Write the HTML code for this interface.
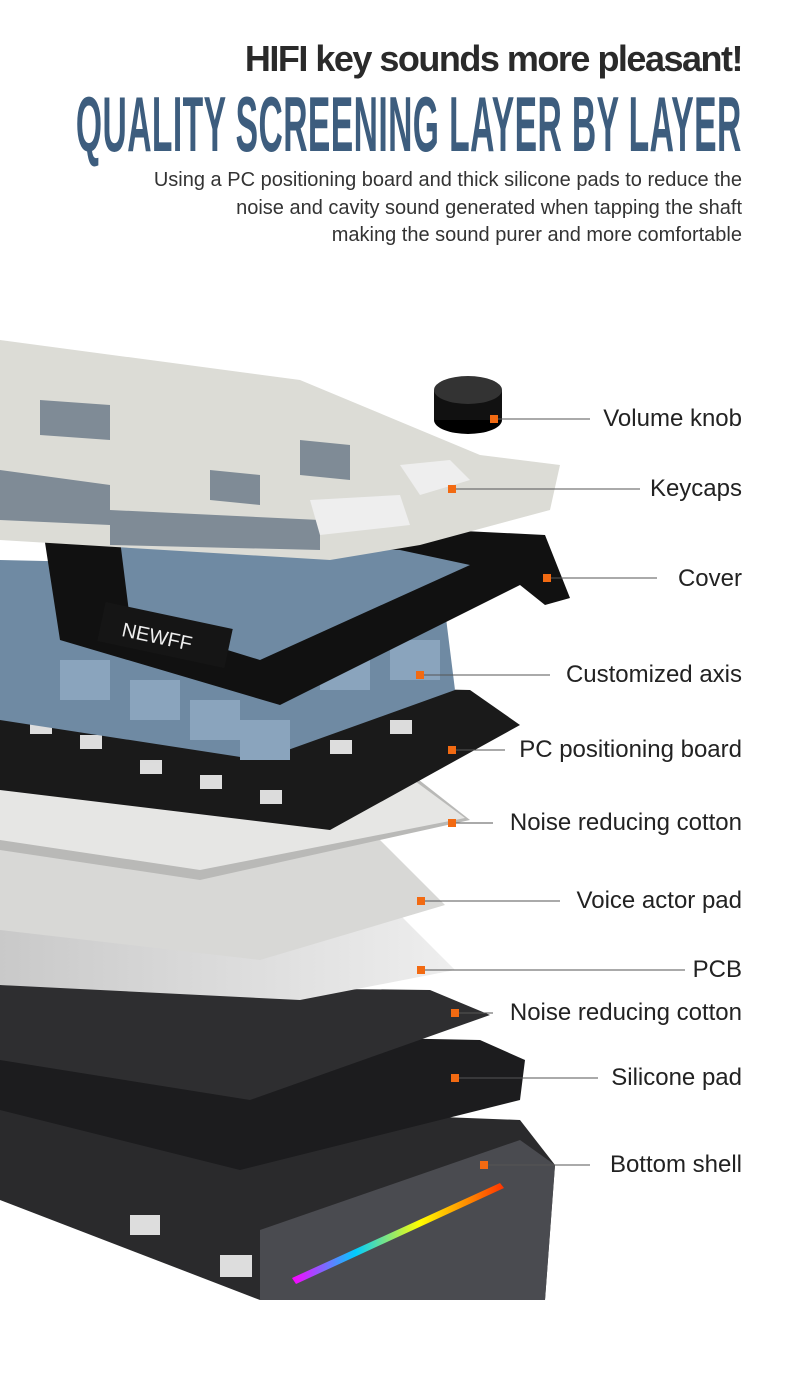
<!DOCTYPE html>
<html><head><meta charset="utf-8">
<style>
html,body{margin:0;padding:0;background:#fff;}
body{width:790px;height:1383px;position:relative;overflow:hidden;font-family:"Liberation Sans",sans-serif;}
.h1{position:absolute;right:48px;top:38px;font-size:36px;font-weight:bold;color:#2a2a2a;letter-spacing:-1.5px;white-space:nowrap;}
.h2wrap{position:absolute;right:48px;top:79px;height:80px;}
.h2{display:inline-block;font-size:78px;font-weight:bold;color:#3d5d7e;white-space:nowrap;transform:scaleX(0.431);transform-origin:right top;position:absolute;right:0;top:0;letter-spacing:1px;}
.sub{position:absolute;right:48px;top:167px;text-align:right;font-size:20px;line-height:27.5px;color:#333;white-space:nowrap;}
.lab{position:absolute;right:48px;font-size:24px;color:#222;white-space:nowrap;}
</style></head><body>
<div class="h1">HIFI key sounds more pleasant!</div>
<div class="h2wrap"><span class="h2">QUALITY SCREENING LAYER BY LAYER</span></div>
<div class="sub">Using a PC positioning board and thick silicone pads to reduce the<br>noise and cavity sound generated when tapping the shaft<br>making the sound purer and more comfortable</div>

<svg width="790" height="1383" style="position:absolute;left:0;top:0">
<defs>
<linearGradient id="rb" x1="0" x2="1"><stop offset="0" stop-color="#f0f"/><stop offset=".3" stop-color="#0cf"/><stop offset=".6" stop-color="#ff0"/><stop offset="1" stop-color="#f30"/></linearGradient>
<linearGradient id="pcb" x1="0" x2="1"><stop offset="0" stop-color="#c9c9c9"/><stop offset="1" stop-color="#eee"/></linearGradient>
</defs>
<polygon points="0,1100 520,1120 555,1165 545,1300 260,1300 0,1200" fill="#2a2a2c"/>
<polygon points="260,1230 520,1140 555,1165 545,1300 260,1300" fill="#4a4b50"/>
<polygon points="292,1278 500,1183 504,1188 296,1284" fill="url(#rb)"/>
<rect x="130" y="1215" width="30" height="20" fill="#ddd"/><rect x="220" y="1255" width="32" height="22" fill="#ddd"/>
<polygon points="0,1030 480,1040 525,1060 520,1100 240,1170 0,1110" fill="#1c1c1e"/>
<polygon points="0,985 430,990 490,1015 250,1100 0,1060" fill="#2e2e30"/>
<polygon points="0,905 400,915 455,970 300,1000 0,985" fill="url(#pcb)"/>
<polygon points="0,830 380,840 445,905 260,960 0,930" fill="#d8d8d6"/>
<polygon points="0,755 400,765 470,820 200,880 0,850" fill="#b9b9b7"/>
<polygon points="0,760 400,770 465,818 200,870 0,840" fill="#e6e6e4"/>
<polygon points="0,680 470,690 520,725 330,830 0,790" fill="#1a1a1a"/>
<g fill="#fff" opacity=".85">
<rect x="30" y="720" width="22" height="14"/><rect x="80" y="735" width="22" height="14"/><rect x="140" y="760" width="22" height="14"/><rect x="200" y="775" width="22" height="14"/><rect x="260" y="790" width="22" height="14"/><rect x="330" y="740" width="22" height="14"/><rect x="390" y="720" width="22" height="14"/><rect x="270" y="720" width="22" height="14"/></g>
<polygon points="0,560 440,570 455,690 260,760 0,720" fill="#6f8aa3"/>
<g fill="#8aa4bd"><rect x="60" y="660" width="50" height="40"/><rect x="130" y="680" width="50" height="40"/><rect x="190" y="700" width="50" height="40"/><rect x="240" y="720" width="50" height="40"/><rect x="320" y="650" width="50" height="40"/><rect x="390" y="640" width="50" height="40"/><rect x="210" y="570" width="50" height="40"/><rect x="290" y="590" width="50" height="40"/></g>
<polygon points="40,510 545,535 570,598 545,605 520,585 280,705 60,640" fill="#111"/>
<polygon points="120,540 400,550 470,565 260,660 130,620" fill="#6f8aa3"/>
<rect x="100" y="615" width="130" height="40" fill="#151515" transform="rotate(12 165 635)"/>
<text x="122" y="645" font-size="20" fill="#eee" font-family="Liberation Sans" transform="rotate(12 165 635)">NEWFF</text>
<polygon points="0,340 300,380 480,455 560,465 550,510 420,545 330,560 0,540" fill="#dcdcd6"/>
<g fill="#7f8b96"><polygon points="0,470 110,485 110,525 0,520"/><polygon points="40,400 110,405 110,440 40,435"/><polygon points="210,470 260,475 260,505 210,500"/><polygon points="300,440 350,445 350,480 300,475"/><polygon points="110,510 320,520 320,550 110,545"/></g>
<g fill="#eee"><polygon points="400,465 450,460 470,480 420,495"/><polygon points="310,500 400,495 410,525 320,535"/></g>
<ellipse cx="468" cy="420" rx="34" ry="14" fill="#000"/>
<rect x="434" y="390" width="68" height="30" fill="#111"/>
<ellipse cx="468" cy="390" rx="34" ry="14" fill="#333"/>
<g stroke="#555" stroke-width="1">
<line x1="494" y1="419" x2="590" y2="419"/>
<line x1="452" y1="489" x2="640" y2="489"/>
<line x1="547" y1="578" x2="657" y2="578"/>
<line x1="420" y1="675" x2="550" y2="675"/>
<line x1="452" y1="750" x2="505" y2="750"/>
<line x1="452" y1="823" x2="493" y2="823"/>
<line x1="421" y1="901" x2="560" y2="901"/>
<line x1="421" y1="970" x2="685" y2="970"/>
<line x1="455" y1="1013" x2="493" y2="1013"/>
<line x1="455" y1="1078" x2="598" y2="1078"/>
<line x1="484" y1="1165" x2="590" y2="1165"/>
</g>
<g fill="#f26a12">
<rect x="490" y="415" width="8" height="8"/><rect x="448" y="485" width="8" height="8"/><rect x="543" y="574" width="8" height="8"/><rect x="416" y="671" width="8" height="8"/><rect x="448" y="746" width="8" height="8"/><rect x="448" y="819" width="8" height="8"/><rect x="417" y="897" width="8" height="8"/><rect x="417" y="966" width="8" height="8"/><rect x="451" y="1009" width="8" height="8"/><rect x="451" y="1074" width="8" height="8"/><rect x="480" y="1161" width="8" height="8"/>
</g>
</svg>

<div class="lab" style="top:405px">Volume knob</div>
<div class="lab" style="top:475px">Keycaps</div>
<div class="lab" style="top:565px">Cover</div>
<div class="lab" style="top:661px">Customized axis</div>
<div class="lab" style="top:736px">PC positioning board</div>
<div class="lab" style="top:809px">Noise reducing cotton</div>
<div class="lab" style="top:887px">Voice actor pad</div>
<div class="lab" style="top:956px">PCB</div>
<div class="lab" style="top:999px">Noise reducing cotton</div>
<div class="lab" style="top:1064px">Silicone pad</div>
<div class="lab" style="top:1151px">Bottom shell</div>
</body></html>
